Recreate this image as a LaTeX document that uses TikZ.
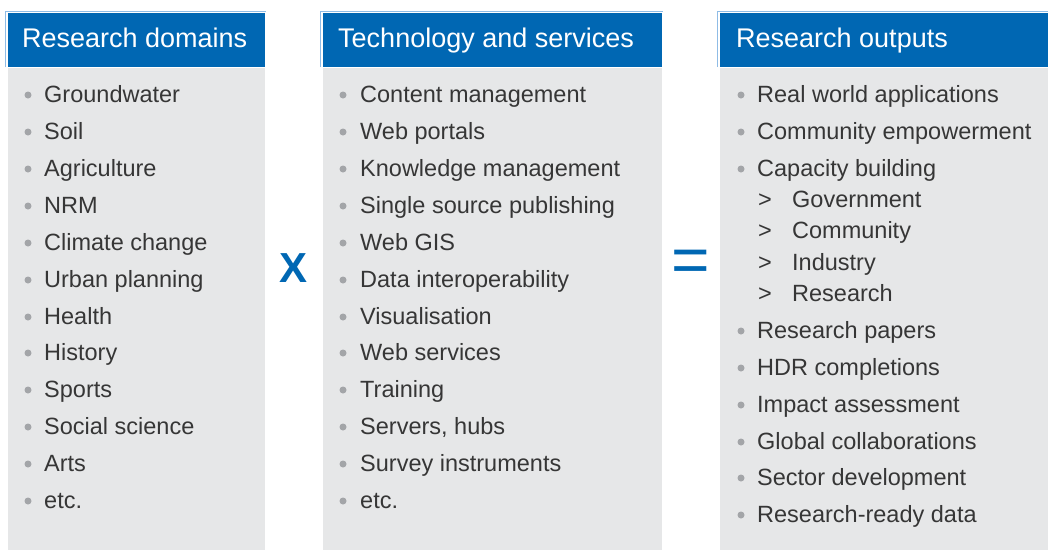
\documentclass[tikz,border=0pt]{standalone}
\usepackage{fontspec}
\setmainfont{Liberation Sans}
\definecolor{hdblue}{HTML}{0067B3}
\definecolor{hdline}{HTML}{8FBCE6}
\definecolor{boxgray}{HTML}{E6E7E8}
\definecolor{dotgray}{HTML}{A3A5A8}
\definecolor{txtgray}{HTML}{363636}
\tikzset{
  head/.style={anchor=base west, inner sep=0, text=white, font=\fontsize{27}{30}\selectfont},
  item/.style={anchor=base west, inner sep=0, text=txtgray, font=\fontsize{23.5}{26}\selectfont},
  dot/.style={circle, fill=dotgray, inner sep=0, minimum size=7pt},
  sub/.style={anchor=base west, inner sep=0, text=txtgray, font=\fontsize{23.5}{26}\selectfont},
  sign/.style={text=hdblue, inner sep=0}
}
\begin{document}
\begin{tikzpicture}[x=1pt, y=-1pt]
	\useasboundingbox (0,0) rectangle (1048,550);
	% columns
	\fill[boxgray] (8,68)   rectangle (265,550);
	\fill[boxgray] (323,68) rectangle (662,550);
	\fill[boxgray] (720,68) rectangle (1048,550);
	\draw[white, line width=1.2pt] (322,68) -- (322,550);
	\draw[hdline, line width=1pt] (5,67) -- (5,11) -- (266,11);
	\draw[hdline, line width=1pt] (320,67) -- (320,11) -- (663,11);
	\draw[hdline, line width=1pt] (717,67) -- (717,11) -- (1048,11);
	\fill[hdblue] (8,13)   rectangle (265,67);
	\fill[hdblue] (323,13) rectangle (662,67);
	\fill[hdblue] (720,13) rectangle (1048,67);
	\node[head] (h1) at (22,47)  {Research domains};
	\node[head] (h2) at (338,47) {Technology and services};
	\node[head] (h3) at (736,47) {Research outputs};
	% signs
	\node[sign, font=\fontsize{42}{45}\selectfont\bfseries] (times) at (294,268) {X};
	\node[sign, font=\fontsize{66}{68}\selectfont] (equals) at (691,266) {=};
	% research domains
	\node[dot] (d1) at (28,95)  {}; \node[item] (a1) at (44,102) {Groundwater};
	\node[dot] (d2) at (28,132) {}; \node[item] (a2) at (44,139) {Soil};
	\node[dot] (d3) at (28,169) {}; \node[item] (a3) at (44,176) {Agriculture};
	\node[dot] (d4) at (28,206) {}; \node[item] (a4) at (44,213) {NRM};
	\node[dot] (d5) at (28,243) {}; \node[item] (a5) at (44,250) {Climate change};
	\node[dot] (d6) at (28,280) {}; \node[item] (a6) at (44,287) {Urban planning};
	\node[dot] (d7) at (28,317) {}; \node[item] (a7) at (44,324) {Health};
	\node[dot] (d8) at (28,353) {}; \node[item] (a8) at (44,360) {History};
	\node[dot] (d9) at (28,390) {}; \node[item] (a9) at (44,397) {Sports};
	\node[dot] (d10) at (28,427) {}; \node[item] (a10) at (44,434) {Social science};
	\node[dot] (d11) at (28,464) {}; \node[item] (a11) at (44,471) {Arts};
	\node[dot] (d12) at (28,501) {}; \node[item] (a12) at (44,508) {etc.};
	% technology and services
	\node[dot] (e1) at (343,95)  {}; \node[item] (b1) at (360,102) {Content management};
	\node[dot] (e2) at (343,132) {}; \node[item] (b2) at (360,139) {Web portals};
	\node[dot] (e3) at (343,169) {}; \node[item] (b3) at (360,176) {Knowledge management};
	\node[dot] (e4) at (343,206) {}; \node[item] (b4) at (360,213) {Single source publishing};
	\node[dot] (e5) at (343,243) {}; \node[item] (b5) at (360,250) {Web GIS};
	\node[dot] (e6) at (343,280) {}; \node[item] (b6) at (360,287) {Data interoperability};
	\node[dot] (e7) at (343,317) {}; \node[item] (b7) at (360,324) {Visualisation};
	\node[dot] (e8) at (343,353) {}; \node[item] (b8) at (360,360) {Web services};
	\node[dot] (e9) at (343,390) {}; \node[item] (b9) at (360,397) {Training};
	\node[dot] (e10) at (343,427) {}; \node[item] (b10) at (360,434) {Servers, hubs};
	\node[dot] (e11) at (343,464) {}; \node[item] (b11) at (360,471) {Survey instruments};
	\node[dot] (e12) at (343,501) {}; \node[item] (b12) at (360,508) {etc.};
	% research outputs
	\node[dot] (f1) at (741,95)  {}; \node[item] (c1) at (757,102) {Real world applications};
	\node[dot] (f2) at (741,132) {}; \node[item] (c2) at (757,139) {Community empowerment};
	\node[dot] (f3) at (741,169) {}; \node[item] (c3) at (757,176) {Capacity building};
	\node[sub] (g1) at (758,207) {>}; \node[item] (s1) at (792,207) {Government};
	\node[sub] (g2) at (758,238) {>}; \node[item] (s2) at (792,238) {Community};
	\node[sub] (g3) at (758,270) {>}; \node[item] (s3) at (792,270) {Industry};
	\node[sub] (g4) at (758,301) {>}; \node[item] (s4) at (792,301) {Research};
	\node[dot] (f4) at (741,331) {}; \node[item] (c4) at (757,338) {Research papers};
	\node[dot] (f5) at (741,368) {}; \node[item] (c5) at (757,375) {HDR completions};
	\node[dot] (f6) at (741,405) {}; \node[item] (c6) at (757,412) {Impact assessment};
	\node[dot] (f7) at (741,442) {}; \node[item] (c7) at (757,449) {Global collaborations};
	\node[dot] (f8) at (741,478) {}; \node[item] (c8) at (757,485) {Sector development};
	\node[dot] (f9) at (741,515) {}; \node[item] (c9) at (757,522) {Research-ready data};
\end{tikzpicture}
\end{document}
